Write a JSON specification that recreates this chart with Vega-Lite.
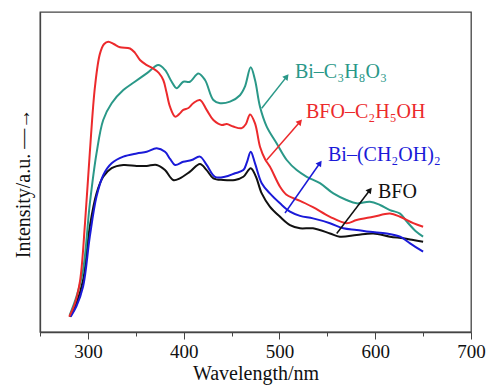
{
  "$schema": "https://vega.github.io/schema/vega-lite/v6.json",
  "width": 431,
  "height": 320,
  "autosize": {"type": "none"},
  "padding": {"left": 40, "top": 12, "right": 15, "bottom": 59},
  "config": {
    "view": {"stroke": "#444", "strokeWidth": 1.3},
    "font": "Liberation Serif, DejaVu Serif, serif",
    "axis": {"grid": false, "domainColor": "#444", "domainWidth": 1.3, "tickColor": "#444", "labelColor": "#111", "titleColor": "#111", "titleFontWeight": "normal", "labelFont": "Liberation Serif, DejaVu Serif, serif", "titleFont": "Liberation Serif, DejaVu Serif, serif"}
  },
  "datasets": {
    "curves": [
      {"s": "K", "w": 281, "v": 4.8}, {"s": "K", "w": 288, "v": 9}, {"s": "K", "w": 295, "v": 16.25}, {"s": "K", "w": 302, "v": 33}, {"s": "K", "w": 309, "v": 43.3}, {"s": "K", "w": 316, "v": 48.5}, {"s": "K", "w": 324.8, "v": 51.2}, {"s": "K", "w": 337, "v": 52.2}, {"s": "K", "w": 351, "v": 51.9}, {"s": "K", "w": 361.4, "v": 51.9}, {"s": "K", "w": 371.8, "v": 52.2}, {"s": "K", "w": 380.5, "v": 50.6}, {"s": "K", "w": 389, "v": 47.5}, {"s": "K", "w": 396, "v": 48}, {"s": "K", "w": 406.6, "v": 50.1}, {"s": "K", "w": 417, "v": 52.5}, {"s": "K", "w": 424, "v": 50.6}, {"s": "K", "w": 431, "v": 48}, {"s": "K", "w": 441.4, "v": 47.5}, {"s": "K", "w": 453.6, "v": 47.5}, {"s": "K", "w": 462.3, "v": 48.5}, {"s": "K", "w": 470, "v": 51.2}, {"s": "K", "w": 475.5, "v": 48.5}, {"s": "K", "w": 481.5, "v": 43.3}, {"s": "K", "w": 490, "v": 39.2}, {"s": "K", "w": 500.6, "v": 36}, {"s": "K", "w": 511, "v": 33.4}, {"s": "K", "w": 521.5, "v": 32.4}, {"s": "K", "w": 535, "v": 32.4}, {"s": "K", "w": 552.8, "v": 30.8}, {"s": "K", "w": 563, "v": 29.8}, {"s": "K", "w": 580.6, "v": 30.3}, {"s": "K", "w": 598, "v": 30.8}, {"s": "K", "w": 615.4, "v": 29.8}, {"s": "K", "w": 629.4, "v": 29.3}, {"s": "K", "w": 639.7, "v": 28.75}, {"s": "K", "w": 650, "v": 28.2},

      {"s": "B", "w": 282, "v": 4.8}, {"s": "B", "w": 288, "v": 8}, {"s": "B", "w": 295, "v": 14.2}, {"s": "B", "w": 302, "v": 29.8}, {"s": "B", "w": 309, "v": 42.3}, {"s": "B", "w": 316, "v": 49}, {"s": "B", "w": 324.8, "v": 52.7}, {"s": "B", "w": 337, "v": 54.8}, {"s": "B", "w": 351, "v": 55.8}, {"s": "B", "w": 361.4, "v": 56.3}, {"s": "B", "w": 371.8, "v": 57.4}, {"s": "B", "w": 380.5, "v": 56.3}, {"s": "B", "w": 386, "v": 54}, {"s": "B", "w": 391, "v": 52.2}, {"s": "B", "w": 399.6, "v": 53.2}, {"s": "B", "w": 408.4, "v": 53.75}, {"s": "B", "w": 417, "v": 54.8}, {"s": "B", "w": 424, "v": 52.2}, {"s": "B", "w": 432.7, "v": 48.5}, {"s": "B", "w": 443, "v": 48.5}, {"s": "B", "w": 453.6, "v": 49.6}, {"s": "B", "w": 462.3, "v": 50.6}, {"s": "B", "w": 466, "v": 53}, {"s": "B", "w": 470, "v": 56.3}, {"s": "B", "w": 474.5, "v": 52.7}, {"s": "B", "w": 481.5, "v": 46.5}, {"s": "B", "w": 490, "v": 43.3}, {"s": "B", "w": 500.6, "v": 40.2}, {"s": "B", "w": 511, "v": 37.6}, {"s": "B", "w": 521.5, "v": 36.3}, {"s": "B", "w": 535, "v": 35.5}, {"s": "B", "w": 552.8, "v": 34}, {"s": "B", "w": 566.7, "v": 32.4}, {"s": "B", "w": 580.6, "v": 31.9}, {"s": "B", "w": 594.5, "v": 31.3}, {"s": "B", "w": 612, "v": 30.8}, {"s": "B", "w": 626, "v": 29.8}, {"s": "B", "w": 636.4, "v": 27.7}, {"s": "B", "w": 650, "v": 25.1},

      {"s": "T", "w": 281, "v": 5.3}, {"s": "T", "w": 288, "v": 11}, {"s": "T", "w": 295, "v": 19.4}, {"s": "T", "w": 302, "v": 40}, {"s": "T", "w": 309, "v": 55.8}, {"s": "T", "w": 316, "v": 66.25}, {"s": "T", "w": 324.8, "v": 71.5}, {"s": "T", "w": 337, "v": 75.6}, {"s": "T", "w": 349, "v": 78.2}, {"s": "T", "w": 361.4, "v": 80.8}, {"s": "T", "w": 373.5, "v": 83.4}, {"s": "T", "w": 380.5, "v": 81.9}, {"s": "T", "w": 387.5, "v": 78.2}, {"s": "T", "w": 392.7, "v": 76.2}, {"s": "T", "w": 399.6, "v": 78.2}, {"s": "T", "w": 406.6, "v": 78.2}, {"s": "T", "w": 415.3, "v": 80.8}, {"s": "T", "w": 422.3, "v": 78.75}, {"s": "T", "w": 431, "v": 72.5}, {"s": "T", "w": 438, "v": 71.5}, {"s": "T", "w": 448.4, "v": 72}, {"s": "T", "w": 458.8, "v": 74}, {"s": "T", "w": 464, "v": 76.7}, {"s": "T", "w": 470, "v": 82.7}, {"s": "T", "w": 474.5, "v": 78.75}, {"s": "T", "w": 479.7, "v": 70.4}, {"s": "T", "w": 486.7, "v": 64.2}, {"s": "T", "w": 497, "v": 59}, {"s": "T", "w": 507.6, "v": 53.75}, {"s": "T", "w": 518, "v": 50.6}, {"s": "T", "w": 528.5, "v": 48.5}, {"s": "T", "w": 542.3, "v": 46.5}, {"s": "T", "w": 556.3, "v": 43.3}, {"s": "T", "w": 570, "v": 41.25}, {"s": "T", "w": 580.6, "v": 40.2}, {"s": "T", "w": 594.5, "v": 40.7}, {"s": "T", "w": 605, "v": 39.7}, {"s": "T", "w": 615.4, "v": 38.1}, {"s": "T", "w": 626, "v": 37}, {"s": "T", "w": 633, "v": 34.5}, {"s": "T", "w": 643, "v": 31.3}, {"s": "T", "w": 650, "v": 29.8},

      {"s": "R", "w": 280.5, "v": 4.8}, {"s": "R", "w": 286, "v": 8.5}, {"s": "R", "w": 291.8, "v": 16}, {"s": "R", "w": 297, "v": 34}, {"s": "R", "w": 302, "v": 56}, {"s": "R", "w": 307.4, "v": 76.7}, {"s": "R", "w": 312.6, "v": 87}, {"s": "R", "w": 317, "v": 90}, {"s": "R", "w": 321.3, "v": 90.7}, {"s": "R", "w": 327, "v": 90}, {"s": "R", "w": 333.5, "v": 89}, {"s": "R", "w": 344, "v": 88.6}, {"s": "R", "w": 349, "v": 87.3}, {"s": "R", "w": 354.4, "v": 85}, {"s": "R", "w": 361, "v": 83.5}, {"s": "R", "w": 368, "v": 82.4}, {"s": "R", "w": 374, "v": 81}, {"s": "R", "w": 378.7, "v": 78.75}, {"s": "R", "w": 382, "v": 75}, {"s": "R", "w": 385.7, "v": 70.4}, {"s": "R", "w": 391, "v": 67.3}, {"s": "R", "w": 395, "v": 68}, {"s": "R", "w": 399.6, "v": 69.4}, {"s": "R", "w": 405, "v": 70}, {"s": "R", "w": 410, "v": 71.5}, {"s": "R", "w": 417, "v": 72.5}, {"s": "R", "w": 424, "v": 69.4}, {"s": "R", "w": 431, "v": 66.25}, {"s": "R", "w": 439.7, "v": 64.7}, {"s": "R", "w": 445, "v": 65}, {"s": "R", "w": 451.8, "v": 64.2}, {"s": "R", "w": 460.6, "v": 63.7}, {"s": "R", "w": 465, "v": 65}, {"s": "R", "w": 469.3, "v": 68}, {"s": "R", "w": 474.5, "v": 65.2}, {"s": "R", "w": 479.7, "v": 57.9}, {"s": "R", "w": 485, "v": 54}, {"s": "R", "w": 490, "v": 51.7}, {"s": "R", "w": 500.6, "v": 45.4}, {"s": "R", "w": 507, "v": 43}, {"s": "R", "w": 514.5, "v": 41.8}, {"s": "R", "w": 521.5, "v": 41}, {"s": "R", "w": 535, "v": 39}, {"s": "R", "w": 552.8, "v": 36}, {"s": "R", "w": 570, "v": 34}, {"s": "R", "w": 580.6, "v": 35}, {"s": "R", "w": 598, "v": 36}, {"s": "R", "w": 615.4, "v": 37}, {"s": "R", "w": 626, "v": 36}, {"s": "R", "w": 639.7, "v": 34}, {"s": "R", "w": 650, "v": 32.9}
    ],
    "arrows": [
      {"s": "T", "w": 481.5, "v": 69.9, "w2": 507.6, "v2": 79.8, "a": 38},
      {"s": "R", "w": 486.7, "v": 53.75, "w2": 521.5, "v2": 65.7, "a": 41},
      {"s": "B", "w": 505.8, "v": 37.2, "w2": 542.3, "v2": 52.8, "a": 35},
      {"s": "K", "w": 559.8, "v": 30.8, "w2": 594.5, "v2": 44.4, "a": 38}
    ],
    "labels": [
      {"s": "T", "w": 516.2, "v": 81.25, "t": "Bi–C₃H₈O₃"},
      {"s": "R", "w": 527.7, "v": 68.75, "t": "BFO–C₂H₅OH"},
      {"s": "B", "w": 550.7, "v": 55.3, "t": "Bi–(CH₂OH)₂"},
      {"s": "K", "w": 602.9, "v": 43.75, "t": "BFO"}
    ]
  },
  "layer": [
    {
      "data": {"name": "curves"},
      "mark": {"type": "line", "strokeWidth": 2, "interpolate": "catmull-rom"},
      "encoding": {
        "x": {"field": "w", "type": "quantitative", "scale": {"domain": [250, 700], "nice": false, "zero": false},
          "axis": {"values": [250, 300, 350, 400, 450, 500, 550, 600, 650, 700], "labelExpr": "datum.value % 100 === 0 ? datum.label : ''", "labelOverlap": false, "labelFlush": false, "tickSize": {"condition": {"test": "datum.value % 100 === 0", "value": 7}, "value": 4}, "labelFontSize": 19, "labelPadding": 3, "title": "Wavelength/nm", "titleFontSize": 20, "titlePadding": 2}},
        "y": {"field": "v", "type": "quantitative", "scale": {"domain": [0, 100], "nice": false},
          "axis": {"ticks": false, "labels": false, "title": "Intensity/a.u.  —→", "titleFontSize": 20, "titlePadding": 7, "titleY": 171}},
        "color": {"field": "s", "type": "nominal", "scale": {"domain": ["K", "B", "T", "R"], "range": ["#111111", "#1a1ad8", "#2a9888", "#ec2a2c"]}, "legend": null},
        "detail": {"field": "s"}
      }
    },
    {
      "data": {"name": "arrows"},
      "mark": {"type": "rule", "strokeWidth": 1.5},
      "encoding": {
        "x": {"field": "w", "type": "quantitative"},
        "y": {"field": "v", "type": "quantitative"},
        "x2": {"field": "w2"},
        "y2": {"field": "v2"},
        "color": {"field": "s", "type": "nominal"}
      }
    },
    {
      "data": {"name": "arrows"},
      "mark": {"type": "point", "shape": "triangle-up", "filled": true, "opacity": 1, "size": 45},
      "encoding": {
        "x": {"field": "w2", "type": "quantitative"},
        "y": {"field": "v2", "type": "quantitative"},
        "angle": {"field": "a", "type": "quantitative", "scale": null},
        "color": {"field": "s", "type": "nominal"}
      }
    },
    {
      "data": {"name": "labels"},
      "mark": {"type": "text", "align": "left", "baseline": "middle", "fontSize": 20},
      "encoding": {
        "x": {"field": "w", "type": "quantitative"},
        "y": {"field": "v", "type": "quantitative"},
        "text": {"field": "t"},
        "color": {"field": "s", "type": "nominal"}
      }
    }
  ]
}
